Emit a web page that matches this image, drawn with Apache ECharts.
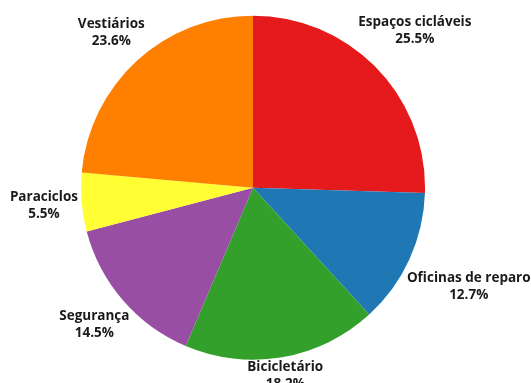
<!DOCTYPE html>
<html>
<head>
<meta charset="utf-8">
<script src="https://cdn.jsdelivr.net/npm/echarts@6/dist/echarts.min.js"></script>
<style>html,body{margin:0;padding:0;background:#fff;}#c{width:531px;height:383px;}</style>
</head>
<body>
<div id="c"></div>
<script>
const categories = ['Espaços cicláveis', 'Oficinas de reparo', 'Bicicletário', 'Segurança', 'Paraciclos', 'Vestiários'];
const values = [25.5, 12.7, 18.2, 14.5, 5.5, 23.6];
const colors = ['#e41a1c', '#1f78b4', '#33a02c', '#984ea3', '#ffff33', '#ff7f00'];
// label distance from centre, as a multiple of the radius
const labelDistance = [1.31, 1.38, 1.11, 1.22, 1.22, 1.22];

const chart = echarts.init(document.getElementById('c'), null, {renderer: 'canvas'});
chart.setOption({
  animation: false,
  backgroundColor: '#ffffff',
  series: [{
    type: 'pie',
    center: ['47.65%', '49%'],
    radius: [0, 172],
    startAngle: 90,
    clockwise: true,
    avoidLabelOverlap: false,
    data: categories.map((n, i) => ({name: n, value: values[i], itemStyle: {color: colors[i]}})),
    itemStyle: {borderWidth: 0},
    label: {
      show: true,
      position: 'inside',
      formatter: p => p.name + '\n' + p.value.toFixed(1) + '%',
      fontFamily: 'Open Sans',
      fontWeight: 'bold',
      fontSize: 13.5,
      lineHeight: 17,
      color: '#1a1a1a',
      align: 'center'
    },
    labelLine: {show: false},
    labelLayout: function (params) {
      const data = chart.getModel().getSeriesByIndex(0).getData();
      const l = data.getItemLayout(params.dataIndex);
      const mid = (l.startAngle + l.endAngle) / 2;
      const d = l.r * labelDistance[params.dataIndex];
      return {
        x: l.cx + d * Math.cos(mid),
        y: l.cy + d * Math.sin(mid),
        align: 'center',
        verticalAlign: 'middle'
      };
    }
  }]
});
</script>
</body>
</html>
